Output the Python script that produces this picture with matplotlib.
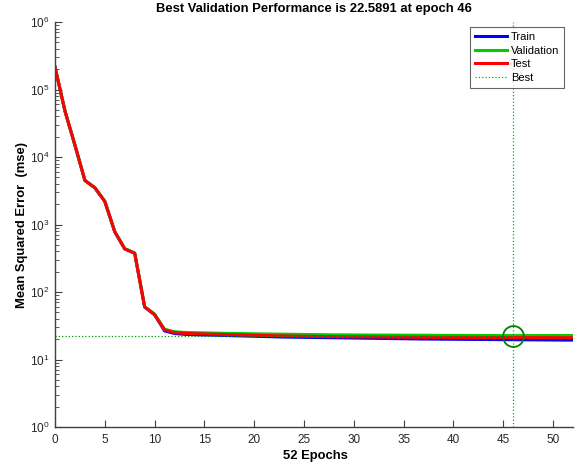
import matplotlib
matplotlib.use("Agg")
import matplotlib.pyplot as plt
from matplotlib.ticker import LogLocator, NullFormatter, FixedLocator

plt.rcParams['font.family'] = ['Liberation Sans', 'DejaVu Sans']
plt.rcParams['mathtext.fontset'] = 'custom'
plt.rcParams['mathtext.rm'] = 'Liberation Sans'
plt.rcParams['mathtext.it'] = 'Liberation Sans:italic'
plt.rcParams['mathtext.bf'] = 'Liberation Sans:bold'

epochs = list(range(53))
train = [215000, 48000, 15000, 4500, 3500, 2200, 780, 435, 375, 60, 46,
         26.5, 24.3, 23.6, 23.3, 23.1, 22.9, 22.7, 22.5, 22.3, 22.1,
         21.9, 21.7, 21.5, 21.4, 21.3, 21.2, 21.1, 21.0, 20.9, 20.8,
         20.7, 20.6, 20.5, 20.4, 20.3, 20.2, 20.1, 20.05, 20.0, 19.95,
         19.9, 19.85, 19.8, 19.75, 19.7, 19.65, 19.6, 19.55, 19.5, 19.45,
         19.4, 19.35]
validation = [215000, 48000, 15000, 4500, 3500, 2200, 785, 440, 378, 61, 47,
              28.0, 25.8, 25.2, 25.0, 24.8, 24.6, 24.4, 24.3, 24.2, 24.0,
              23.9, 23.8, 23.7, 23.6, 23.5, 23.4, 23.3, 23.2, 23.15, 23.1,
              23.05, 23.0, 22.98, 22.96, 22.94, 22.9, 22.86, 22.82, 22.78, 22.75,
              22.72, 22.69, 22.66, 22.63, 22.61, 22.5891, 22.60, 22.62, 22.64, 22.66,
              22.68, 22.70]
test = [215000, 48000, 15000, 4500, 3500, 2200, 780, 435, 375, 60, 46,
        27.5, 25.0, 24.4, 24.1, 23.9, 23.7, 23.5, 23.3, 23.1, 22.9,
        22.7, 22.5, 22.3, 22.2, 22.1, 22.0, 21.9, 21.8, 21.7, 21.65,
        21.6, 21.55, 21.5, 21.45, 21.4, 21.35, 21.3, 21.28, 21.26, 21.24,
        21.22, 21.2, 21.18, 21.16, 21.14, 21.12, 21.1, 21.08, 21.06, 21.04,
        21.02, 21.0]
best_epoch = 46
best_perf = 22.5891
x_ticks = [0, 5, 10, 15, 20, 25, 30, 35, 40, 45, 50]

fig = plt.figure(figsize=(5.79, 4.68), dpi=100)
ax = fig.add_axes([55 / 579, 1 - 427 / 468, 518 / 579, 405 / 468])

ax.plot(epochs, train, color=(0, 0, 1), lw=2.2, label='Train')
ax.plot(epochs, validation, color=(0, 0.8, 0), lw=2.2, label='Validation')
ax.plot(epochs, test, color=(1, 0, 0), lw=2.2, label='Test')
ax.axvline(best_epoch, color=(0, 0.7, 0), ls=':', lw=0.9, label='Best')
ax.plot([0, best_epoch], [best_perf, best_perf], color=(0, 0.6, 0), ls=':', lw=0.9)
ax.plot([best_epoch], [best_perf], 'o', mfc='none', mec=(0, 0.5, 0), ms=15, mew=1.3)

ax.set_yscale('log')
ax.set_ylim(1, 1e6)
ax.set_xlim(0, 52)
ax.xaxis.set_major_locator(FixedLocator(x_ticks))
ax.yaxis.set_major_locator(LogLocator(base=10, numticks=10))
ax.yaxis.set_minor_locator(LogLocator(base=10, subs=range(2, 10), numticks=100))
ax.yaxis.set_minor_formatter(NullFormatter())

for s in ['top', 'right']:
    ax.spines[s].set_visible(False)
for s in ['left', 'bottom']:
    ax.spines[s].set_color('#404040')
    ax.spines[s].set_linewidth(1.0)
ax.tick_params(axis='both', which='both', direction='in', colors='#404040', labelcolor='#262626', labelsize=8.5)
ax.tick_params(axis='both', which='major', length=5)
ax.tick_params(axis='x', which='major', pad=5)
ax.tick_params(axis='y', which='major', pad=4)
ax.tick_params(axis='y', which='minor', length=3)

ax.set_title('Best Validation Performance is 22.5891 at epoch 46', fontsize=9.4, fontweight='bold', pad=7)
ax.set_xlabel('52 Epochs', fontsize=9.4, fontweight='bold')
ax.set_ylabel('Mean Squared Error  (mse)', fontsize=9.4, fontweight='bold')
ax.xaxis.set_label_coords((315 - 55) / 518, -(450 - 427) / 405)
ax.yaxis.set_label_coords(-(55 - 28) / 518, 0.5)

leg = ax.legend(loc='upper right', bbox_to_anchor=(1 - 9 / 518, 1 - 5 / 405), fontsize=8, frameon=True,
                fancybox=False, handlelength=2.9, borderpad=0.45, labelspacing=0.32,
                handletextpad=0.35, borderaxespad=0)
leg.get_frame().set_edgecolor('#404040')
leg.get_frame().set_linewidth(0.8)

fig.savefig('out.png', dpi=100)
